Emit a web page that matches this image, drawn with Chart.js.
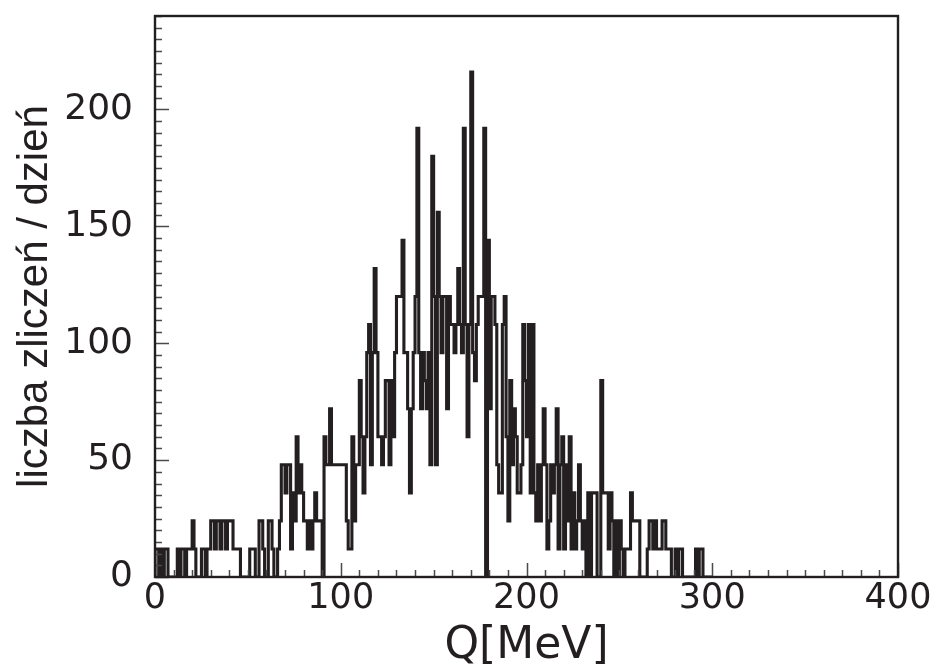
<!DOCTYPE html>
<html>
<head>
<meta charset="utf-8">
<script src="https://cdn.jsdelivr.net/npm/chart.js@4/dist/chart.umd.min.js"></script>
<style>
  html, body { margin: 0; padding: 0; background: #ffffff; }
  canvas { display: block; }
</style>
</head>
<body>
<canvas id="c" width="938" height="664"></canvas>
<script>
// ---- data (counts per day in 1 MeV bins of Q, starting at 0 MeV) ----
const binStartMeV = 0;
const binWidthMeV = 1;
const countsPerDay = [
  12,12,0,12,0,12,12,0,0,0,
  0,0,12,0,12,12,0,12,12,12,
  24,12,0,0,0,12,12,0,12,12,
  24,24,12,24,24,12,24,24,12,24,
  24,24,12,12,12,12,0,0,0,0,
  0,12,12,12,0,0,24,24,12,0,
  0,24,24,12,0,0,12,24,48,48,
  36,48,48,12,36,24,60,36,48,36,
  24,24,12,24,12,24,36,24,24,24,
  0,60,48,48,72,48,48,48,48,48,
  48,48,48,24,12,12,60,24,48,48,
  84,60,36,60,96,108,48,96,132,96,
  60,60,48,60,84,84,48,84,60,96,
  120,120,120,144,96,96,72,36,72,96,
  120,192,96,72,96,84,72,96,48,180,
  120,48,156,120,96,120,120,72,120,108,
  108,96,108,132,108,96,192,108,60,108,
  216,96,84,108,120,120,120,192,0,144,
  72,120,120,108,48,36,36,108,120,60,
  24,84,48,72,60,36,36,48,108,84,
  60,108,36,108,36,24,48,24,48,72,
  48,12,24,48,36,48,72,12,48,60,
  12,48,24,60,12,36,12,24,48,24,
  12,24,0,36,0,36,36,36,0,0,
  84,36,36,36,12,36,24,0,24,0,
  24,12,0,12,12,12,36,24,24,24,
  24,0,0,0,0,12,24,24,12,24,
  12,12,12,24,24,12,12,12,0,0,
  12,0,12,12,0,0,0,0,0,0,
  0,12,0,12,12,0,0,0,0,0
];
const xTickValues = [0, 100, 200, 300, 400];
const yTickValues = [0, 50, 100, 150, 200];
const xTitle = 'Q[MeV]';
const yTitle = 'liczba zliczeń / dzień';

// ---- styling ----
const INK = '#231f20';
const X_MIN = 0, X_MAX = 400, X_MINOR = 10;
const Y_MIN = 0, Y_MAX = 240, Y_MINOR = 5;

// histogram outline points (lower bin edges, stepped)
const histPoints = [{ x: binStartMeV, y: 0 }];
countsPerDay.forEach((v, i) => histPoints.push({ x: binStartMeV + i * binWidthMeV, y: v }));
histPoints.push({ x: binStartMeV + countsPerDay.length * binWidthMeV, y: 0 });

const frameTicks = {
  id: 'frameTicks',
  afterDatasetsDraw(chart) {
    const { ctx, chartArea: a, scales: { x, y } } = chart;
    ctx.save();
    ctx.strokeStyle = '#4a4a4a';
    ctx.lineWidth = 1.5;
    ctx.beginPath();
    for (let v = X_MIN; v <= X_MAX; v += X_MINOR) {
      const px = Math.round(x.getPixelForValue(v)) + 0.5;
      const len = xTickValues.includes(v) ? 14 : 7;
      ctx.moveTo(px, a.bottom);
      ctx.lineTo(px, a.bottom - len);
    }
    for (let v = Y_MIN; v <= Y_MAX; v += Y_MINOR) {
      const py = Math.round(y.getPixelForValue(v)) + 0.5;
      const len = yTickValues.includes(v) ? 14 : 7;
      ctx.moveTo(a.left, py);
      ctx.lineTo(a.left + len, py);
    }
    ctx.stroke();
    ctx.strokeStyle = INK;
    ctx.lineWidth = 2.4;
    ctx.strokeRect(a.left, a.top, a.right - a.left, a.bottom - a.top);
    ctx.restore();
  }
};

new Chart(document.getElementById('c'), {
  type: 'line',
  data: {
    datasets: [{
      data: histPoints,
      stepped: true,
      borderColor: INK,
      borderWidth: 3.1,
      borderJoinStyle: 'miter',
      borderCapStyle: 'butt',
      pointRadius: 0,
      fill: false,
      tension: 0
    }]
  },
  options: {
    responsive: false,
    devicePixelRatio: 1,
    animation: false,
    events: [],
    layout: { padding: { left: 0, top: 16, right: 40, bottom: 0 } },
    plugins: { legend: { display: false }, tooltip: { enabled: false } },
    scales: {
      x: {
        type: 'linear',
        min: X_MIN, max: X_MAX,
        grid: { display: false, drawTicks: false },
        border: { display: false },
        afterBuildTicks: (s) => { s.ticks = xTickValues.map(v => ({ value: v })); },
        ticks: {
          color: INK,
          padding: 1,
          maxRotation: 0,
          font: { family: 'DejaVu Sans', size: 35 },
          callback: (v) => String(v)
        },
        title: {
          display: true, text: xTitle, color: INK,
          font: { family: 'DejaVu Sans', size: 44, lineHeight: 0.8 },
          padding: { top: 0, bottom: 0 }
        },
        afterFit: (s) => { s.height = 87; s.paddingLeft = 0; s.paddingRight = 0; }
      },
      y: {
        type: 'linear',
        min: Y_MIN, max: Y_MAX,
        grid: { display: false, drawTicks: false },
        border: { display: false },
        afterBuildTicks: (s) => { s.ticks = yTickValues.map(v => ({ value: v })); },
        ticks: {
          color: INK,
          padding: 22,
          font: { family: 'DejaVu Sans', size: 36 },
          callback: (v) => String(v)
        },
        title: {
          display: true, text: yTitle, color: INK,
          font: { family: "'Liberation Sans', Arial, sans-serif", size: 42 },
          padding: { top: 10, bottom: 0 }
        },
        afterFit: (s) => { s.width = 155; s.paddingTop = 0; s.paddingBottom = 0; }
      }
    }
  },
  plugins: [frameTicks]
});
</script>
</body>
</html>
